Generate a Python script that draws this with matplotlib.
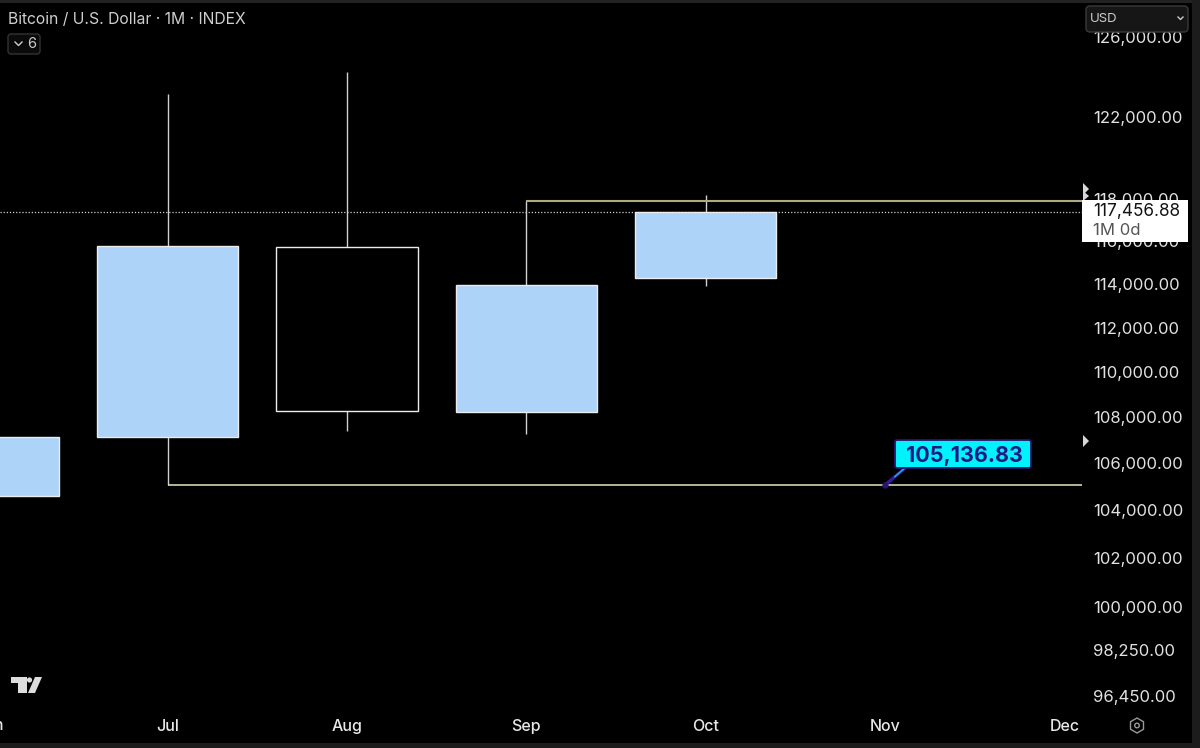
import matplotlib as mpl
mpl.use("Agg")
import matplotlib.pyplot as plt
from matplotlib.patches import FancyBboxPatch, Polygon, RegularPolygon, Circle, Rectangle
from matplotlib.transforms import ScaledTranslation

plt.rcParams["font.family"] = ["Inter", "DejaVu Sans"]

# monthly candles, Jun to Oct
months = ["Jun", "Jul", "Aug", "Sep", "Oct", "Nov", "Dec"]
opens = [104670, 107207, 115800, 108300, 114329]
highs = [107900, 123219, 124323, 117982, 118270]
lows = [103900, 105136.83, 107468, 107337, 113981]
closes = [107207, 115847, 108343, 114027, 117456.88]

price_ticks = [126000, 122000, 118000, 116000, 114000, 112000, 110000, 108000,
               106000, 104000, 102000, 100000, 98250, 96450]

last_price = 117456.88
low_level = 105136.83
high_level = 117982

fig = plt.figure(figsize=(12, 7.48), dpi=100, facecolor="black")
ax = fig.add_axes([0, 1 - 712 / 748, 1082 / 1200, 709 / 748], facecolor="black")
ax.set_yscale("log")
ax.set_xlim(0.0663, 6.0975)
ax.set_ylim(95883, 127854)

for s in ax.spines.values():
    s.set_visible(False)

xs = list(range(len(opens)))
for i in xs:
    filled = closes[i] > opens[i]
    ax.vlines(i, lows[i], highs[i], color="#d0d0d0", lw=1, zorder=2)
    ax.bar(i, abs(closes[i] - opens[i]), bottom=min(opens[i], closes[i]), width=0.788,
           facecolor="#aed3f8" if filled else "black", edgecolor="#ececec", lw=1, zorder=3)

# last price and drawn levels
ax.axhline(last_price, color="#d0d0d0", lw=0.9, ls=(0, (1, 1.5)), zorder=1)
ax.hlines(high_level, 3, 6.0975, color="#aeab80", lw=1.5, zorder=4)
ax.hlines(low_level, 1, 6.0975, color="#e6e6c0", lw=1.1, zorder=4)

ax.plot([5], [low_level], "o", ms=3.5, color="#2a1470", zorder=5)
ax.annotate("", xy=(5, low_level), xytext=(20, 17), textcoords="offset pixels", zorder=4.5,
            annotation_clip=False,
            arrowprops=dict(arrowstyle="-", color="#3a1a9a", lw=2.4, shrinkA=0, shrinkB=0))
ax.annotate("", xy=(5, low_level), xytext=(21, 18), textcoords="offset pixels", zorder=4.6,
            arrowprops=dict(arrowstyle="-", color="#18b8f0", lw=1, shrinkA=0, shrinkB=9))

ax.yaxis.tick_right()
ax.set_yticks(price_ticks)
ax.set_yticklabels([f"{p:,.2f}" for p in price_ticks])
ax.minorticks_off()
ax.tick_params(axis="y", length=0, pad=8, labelsize=12, labelcolor="#e2e2e2")
# scale labels sit a touch above their price level
shift_up = ScaledTranslation(0, 1.6 / 100, fig.dpi_scale_trans)
for lab in ax.get_yticklabels():
    lab.set_transform(lab.get_transform() + shift_up)
ax.set_xticks(range(1, 7))
ax.set_xticklabels(months[1:])
ax.tick_params(axis="x", length=0, pad=5, labelsize=11.5, labelcolor="#e8e8e8")
for lab in ax.get_xticklabels():
    lab.set_fontweight("medium")

# overlay in pixel coords for the chart chrome
ui = fig.add_axes([0, 0, 1, 1], facecolor="none")
ui.set_xlim(0, 1200)
ui.set_ylim(748, 0)
ui.axis("off")

# callout box lives on the price axes so the label stays on top of it
ax.add_patch(FancyBboxPatch((895, 440), 136, 28, boxstyle="round,pad=0,rounding_size=2",
                            fc="#00f2fb", ec="#2a1470", lw=1.3, transform=ui.transData,
                            clip_on=False, zorder=5))
ax.annotate("105,136.83", xy=(5, low_level), xytext=(79, 29), textcoords="offset pixels",
            ha="center", va="center", fontsize=15.5, fontweight="bold", color="#1d1a86", zorder=6)

ui.add_patch(Rectangle((0, 0), 1200, 2.5, fc="#222222", ec="none"))
ui.add_patch(Rectangle((1192, 0), 8, 748, fc="#1c1c1c", ec="none"))
ui.add_patch(Rectangle((0, 743), 1200, 5, fc="#1c1c1c", ec="none"))

ui.text(8, 19, "Bitcoin / U.S. Dollar · 1M · INDEX", fontsize=11.3, color="#cfcfcf", va="center")
ui.add_patch(FancyBboxPatch((8, 34), 32, 20, boxstyle="round,pad=0,rounding_size=3",
                            fc="#0a0a0a", ec="#333333", lw=1))
ui.plot([15, 18.5, 22], [42, 45.5, 42], color="#cccccc", lw=1)
ui.text(31.5, 44, "6", fontsize=10.5, color="#cccccc", ha="center", va="center")

ui.text(-10, 725, months[0], fontsize=11.5, fontweight="medium", color="#e8e8e8", ha="center", va="center")

# currency button
ui.add_patch(FancyBboxPatch((1086, 6), 102, 26, boxstyle="round,pad=0,rounding_size=4",
                            fc="#161616", ec="#3a3a3a", lw=1, zorder=5))
ui.text(1090, 18.5, "USD", fontsize=9.5, color="#cccccc", va="center", zorder=6)
ui.plot([1178, 1180.5, 1183], [17, 19.5, 17], color="#cccccc", lw=1, zorder=6)

# last price label
ui.add_patch(Rectangle((1082, 200), 106, 42, fc="white", ec="none", zorder=5))
ui.text(1093, 211, "117,456.88", fontsize=12.4, color="#131313", va="center", zorder=6)
ui.text(1093, 230, "1M 0d", fontsize=12, color="#555555", va="center", zorder=6)

# little arrows next to the scale
ui.add_patch(Polygon([(1083, 183), (1089, 189), (1083, 195)], fc="#d8d8d8", ec="none", zorder=6))
ui.add_patch(Polygon([(1083, 191), (1089, 196), (1083, 201)], fc="#d8d8d8", ec="none", zorder=4))
ui.add_patch(Polygon([(1083, 435), (1089, 441), (1083, 447)], fc="#d8d8d8", ec="none"))

# tradingview logo
ui.add_patch(Polygon([(11, 677), (27, 677), (27, 693), (18, 693), (18, 683), (11, 683)], fc="#dddddd", ec="none"))
ui.add_patch(Circle((29.5, 680), 2.6, fc="#dddddd", ec="none"))
ui.add_patch(Polygon([(35, 677), (42, 677), (35, 693), (28, 693)], fc="#dddddd", ec="none"))

# settings icon
ui.add_patch(RegularPolygon((1137, 725.5), 6, radius=7.5, fc="none", ec="#999999", lw=1))
ui.add_patch(Circle((1137, 725.5), 2.3, fc="none", ec="#999999", lw=1))

fig.savefig("out.png", dpi=100, facecolor="black")
